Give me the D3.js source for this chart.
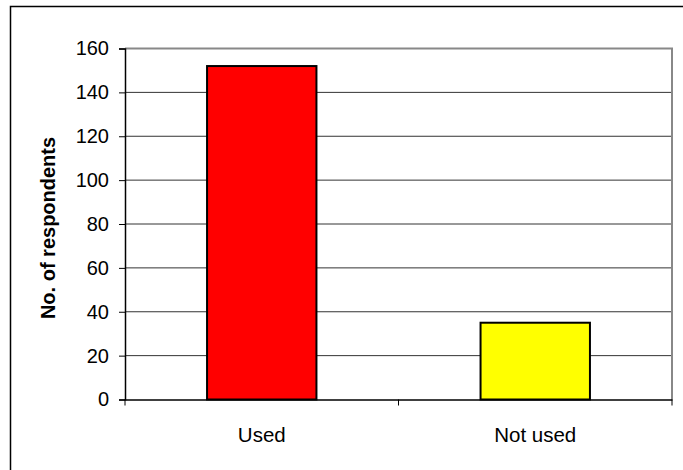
<!DOCTYPE html>
<html><head><meta charset="utf-8">
<script src="https://cdn.jsdelivr.net/npm/d3@7"></script>
<style>body{margin:0;background:#fff}svg{display:block}</style>
</head><body>
<script>
const categories = ["Used", "Not used"];
const values = [152, 35];
const colors = ["#ff0000", "#ffff00"];
const yTicks = [0, 20, 40, 60, 80, 100, 120, 140, 160];
const yTitle = "No. of respondents";

(function () {
const W = 683, H = 470;
const FONT = "Arial, 'Liberation Sans', sans-serif";
const svg = d3.select("body").append("svg").attr("width", W).attr("height", H);
svg.append("rect").attr("width", W).attr("height", H).attr("fill", "#fff");
// outer chart border
svg.append("rect").attr("x", 10.5).attr("y", 6.5).attr("width", 700).attr("height", 500)
  .attr("fill", "none").attr("stroke", "#000").attr("stroke-width", 1.5);

const pL = 125, pR = 672, pT = 48.5, pB = 399.5;
const x = d3.scaleBand().domain(categories).range([pL, pR]).padding(0);
const y = d3.scaleLinear().domain([0, 160]).range([pB, pT]);

// gridlines
svg.append("g").selectAll("line").data(yTicks.filter(t => t > 0 && t < 160)).join("line")
  .attr("x1", pL).attr("x2", pR).attr("y1", d => y(d)).attr("y2", d => y(d))
  .attr("stroke", "#333").attr("stroke-width", 1);
// top and right plot border (gray)
svg.append("path").attr("d", `M${pL},${y(160)}H${pR}V${pB}`)
  .attr("fill", "none").attr("stroke", "#888").attr("stroke-width", 2);

// bars
const bw = x.step() * 0.40;
svg.append("g").selectAll("rect").data(categories).join("rect")
  .attr("x", d => x(d) + x.bandwidth() / 2 - bw / 2)
  .attr("y", (d, i) => y(values[i]))
  .attr("width", bw)
  .attr("height", (d, i) => y(0) - y(values[i]))
  .attr("fill", (d, i) => colors[i])
  .attr("stroke", "#000").attr("stroke-width", 2);

// y axis
const ya = svg.append("g").attr("transform", `translate(${pL},0)`)
  .call(d3.axisLeft(y).tickValues(yTicks).tickSize(6).tickPadding(10));
ya.select(".domain").attr("stroke", "#000").attr("stroke-width", 1.5);
ya.selectAll(".tick line").attr("stroke", "#000");
ya.selectAll("text").attr("font-family", FONT).attr("font-size", 20).attr("fill", "#000");

// x axis
const xa = svg.append("g").attr("transform", `translate(0,${pB})`)
  .call(d3.axisBottom(x).tickSize(0).tickPadding(28));
xa.select(".domain").attr("stroke", "#000").attr("stroke-width", 1.5);
xa.selectAll("text").attr("font-family", FONT).attr("font-size", 20.5).attr("fill", "#000");
// category boundary ticks
svg.append("g").selectAll("line").data([pL, x(categories[1]), pR]).join("line")
  .attr("x1", d => d).attr("x2", d => d).attr("y1", pB).attr("y2", pB + 6)
  .attr("stroke", "#000").attr("stroke-width", 1);

// y title
svg.append("text").attr("transform", `translate(55,${(pT + pB) / 2 + 4}) rotate(-90)`)
  .attr("text-anchor", "middle").attr("font-family", FONT)
  .attr("font-size", 20).attr("font-weight", "bold").text(yTitle);
})();
</script>
</body></html>
